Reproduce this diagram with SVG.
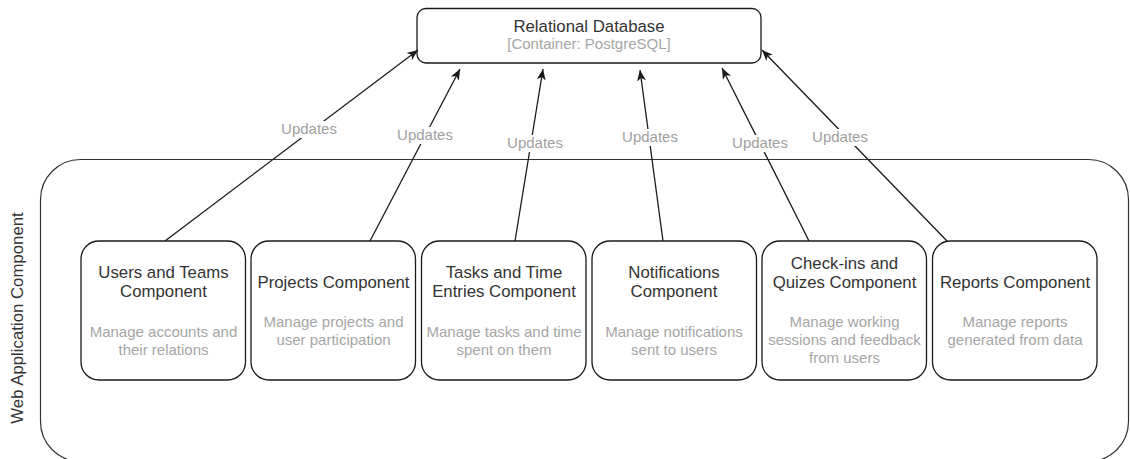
<svg xmlns="http://www.w3.org/2000/svg" width="1130" height="459" viewBox="0 0 1130 459">
  <style>
    .box { fill: #ffffff; stroke: #1a1a1a; stroke-width: 1.3; }
    .title { font-family: "Liberation Sans", Arial, sans-serif; font-size: 16.8px; fill: #333333; text-anchor: middle; }
    .sub { font-family: "Liberation Sans", Arial, sans-serif; font-size: 15px; fill: #a6a6a6; text-anchor: middle; }
    .edge { fill: none; stroke: #1a1a1a; stroke-width: 1.3; marker-end: url(#arrow); }
    .lbl-bg { fill: #ffffff; }
    .lbl { font-family: "Liberation Sans", Arial, sans-serif; font-size: 15px; fill: #a0a0a0; text-anchor: middle; }
  </style>
  <defs>
    <marker id="arrow" markerUnits="userSpaceOnUse" markerWidth="12" markerHeight="10" refX="11" refY="5" orient="auto">
      <path d="M0,0.5 L11,5 L0,9.5 L3,5 Z" fill="#1a1a1a"/>
    </marker>
  </defs>

  <rect width="1130" height="459" fill="#ffffff"/>

  <!-- Web application boundary -->
  <g id="web-application">
    <rect x="40.5" y="159.5" width="1088" height="302" rx="40" ry="40" fill="none" stroke="#333333" stroke-width="1.2"/>
    <text class="title" transform="translate(23,318) rotate(-90)">Web Application Component</text>
  </g>

  <!-- Database container -->
  <g id="relational-database">
    <rect class="box" x="417" y="8.5" width="344" height="54.5" rx="9" ry="9"/>
    <text class="title" x="589" y="32">Relational Database</text>
    <text class="sub" x="589" y="49">[Container: PostgreSQL]</text>
  </g>

  <!-- Connectors -->
  <g id="connectors">
    <line class="edge" x1="165" y1="241" x2="418" y2="50"/>
    <line class="edge" x1="370" y1="241" x2="460" y2="69"/>
    <line class="edge" x1="515" y1="241" x2="543" y2="69"/>
    <line class="edge" x1="663" y1="241" x2="640" y2="70"/>
    <line class="edge" x1="809" y1="241" x2="722" y2="68"/>
    <line class="edge" x1="947" y1="241" x2="762" y2="50"/>

    <rect class="lbl-bg" x="281" y="121" width="56" height="17"/>
    <text class="lbl" x="309" y="134">Updates</text>
    <rect class="lbl-bg" x="397" y="127" width="56" height="17"/>
    <text class="lbl" x="425" y="140">Updates</text>
    <rect class="lbl-bg" x="507" y="135" width="56" height="17"/>
    <text class="lbl" x="535" y="148">Updates</text>
    <rect class="lbl-bg" x="622" y="129" width="56" height="17"/>
    <text class="lbl" x="650" y="142">Updates</text>
    <rect class="lbl-bg" x="732" y="135" width="56" height="17"/>
    <text class="lbl" x="760" y="148">Updates</text>
    <rect class="lbl-bg" x="812" y="129" width="56" height="17"/>
    <text class="lbl" x="840" y="142">Updates</text>
  </g>

  <!-- Components -->
  <g id="users-teams">
    <rect class="box" x="81" y="241" width="164.5" height="139" rx="18" ry="18"/>
    <text class="title" x="163.5" y="278">Users and Teams</text>
    <text class="title" x="163.5" y="297">Component</text>
    <text class="sub" x="163.5" y="337">Manage accounts and</text>
    <text class="sub" x="163.5" y="355">their relations</text>
  </g>

  <g id="projects">
    <rect class="box" x="251" y="241" width="164.5" height="139" rx="18" ry="18"/>
    <text class="title" x="333.5" y="288">Projects Component</text>
    <text class="sub" x="333.5" y="327">Manage projects and</text>
    <text class="sub" x="333.5" y="345">user participation</text>
  </g>

  <g id="tasks-time">
    <rect class="box" x="421.5" y="241" width="164.5" height="139" rx="18" ry="18"/>
    <text class="title" x="504" y="278">Tasks and Time</text>
    <text class="title" x="504" y="297">Entries Component</text>
    <text class="sub" x="504" y="337">Manage tasks and time</text>
    <text class="sub" x="504" y="355">spent on them</text>
  </g>

  <g id="notifications">
    <rect class="box" x="592" y="241" width="164.5" height="139" rx="18" ry="18"/>
    <text class="title" x="674" y="278">Notifications</text>
    <text class="title" x="674" y="297">Component</text>
    <text class="sub" x="674" y="337">Manage notifications</text>
    <text class="sub" x="674" y="355">sent to users</text>
  </g>

  <g id="checkins-quizes">
    <rect class="box" x="762" y="241" width="164.5" height="139" rx="18" ry="18"/>
    <text class="title" x="844.5" y="269">Check-ins and</text>
    <text class="title" x="844.5" y="288">Quizes Component</text>
    <text class="sub" x="844.5" y="327">Manage working</text>
    <text class="sub" x="844.5" y="345">sessions and feedback</text>
    <text class="sub" x="844.5" y="363">from users</text>
  </g>

  <g id="reports">
    <rect class="box" x="932.5" y="241" width="164.5" height="139" rx="18" ry="18"/>
    <text class="title" x="1015" y="288">Reports Component</text>
    <text class="sub" x="1015" y="327">Manage reports</text>
    <text class="sub" x="1015" y="345">generated from data</text>
  </g>
</svg>
